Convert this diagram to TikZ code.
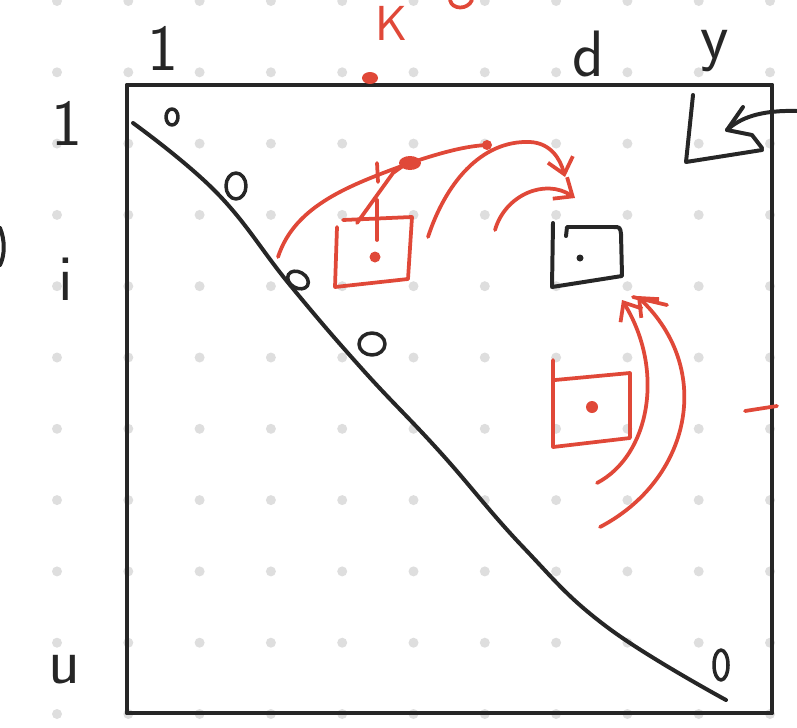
\documentclass[tikz,border=0pt]{standalone}
\usepackage{tikz}
\usetikzlibrary{arrows.meta,calc}
\definecolor{inkblack}{RGB}{38,38,38}
\definecolor{inkred}{RGB}{224,72,56}
\definecolor{dotgray}{RGB}{222,222,222}
\tikzset{
  ink/.style={draw=inkblack, line width=3.4pt, line cap=round, line join=round},
  redink/.style={draw=inkred, line width=3.2pt, line cap=round, line join=round},
  hand/.style={font=\sffamily\fontsize{56}{56}\selectfont, inner sep=0pt, anchor=base},
  barb/.style={-{Straight Barb[length=13pt,width=22pt]}},
}

\begin{document}
\begin{tikzpicture}[x=0.03cm, y=-0.03cm]
  \useasboundingbox (0,0) rectangle (797,727);

  % dotted paper
  \foreach \i in {0,...,10}
    \foreach \j in {0,...,10}
      \fill[dotgray] ({57+71.3*\i},{1+71.3*\j}) circle (5);

  % matrix frame
  \draw[ink, line width=4.2pt] (127,85) rectangle (772,713);

  % row and column labels
  \node[hand, text=inkblack] (colone) at (163,70) {1};
  \node[hand, text=inkblack] (colj) at (588,76) {d};
  \node[hand, text=inkblack] (coln) at (715,58) {y};
  \node[hand, text=inkblack] (rowone) at (67,145) {1};
  \node[hand, text=inkblack] (rowi) at (66,300) {i};
  \node[hand, text=inkblack] (rown) at (64,683) {u};
  \node[hand, text=inkred, font=\sffamily\fontsize{42}{42}\selectfont] (kred) at (392,40) {K};

  % cut-off strokes at the edges
  \draw[ink] (0,228) .. controls (5,240) and (5,255) .. (0,265);
  \draw[redink] (450,0) .. controls (452,10) and (468,10) .. (472,0);
  \fill[inkred] (370,78) ellipse [x radius=8, y radius=6];
  \draw[redink] (745,411) -- (777,406);

  % diagonal
  \draw[ink] plot[smooth, tension=0.7] coordinates {(133,123) (217,193)
    (290,285) (363,370) (440,452) (523,547) (607,627) (726,700)};
  \draw[ink, line width=3pt] (172,117) ellipse [x radius=6, y radius=8];
  \draw[ink, line width=3pt] (236,186) ellipse [x radius=10, y radius=13];
  \draw[ink, line width=3pt] (298,280) ellipse [x radius=11, y radius=8, rotate=-30];
  \draw[ink, line width=3pt] (372,344) ellipse [x radius=13, y radius=11];
  \draw[ink, line width=3pt] (721,665) ellipse [x radius=7, y radius=15];

  % corner mark top right
  \coordinate (cornerin) at (797,111);
  \coordinate (cornertip) at (727,130);
  \draw[ink] (693,95) -- (686,162) -- (762,150);
  \draw[ink] (cornerin) .. controls (760,110) and (740,118) .. (cornertip);
  \draw[ink] (743,107) -- (cornertip) -- (752,135) -- (762,148);

  % target entry
  \draw[ink] (566,236) -- (567,227) -- (613,227)
    .. controls (620,227) .. (621,234) -- (622,276) -- (552,287) -- (553,223);
  \fill[inkblack] (580,258) circle (3.5);

  % first red entry
  \draw[redink] (337,227) -- (335,287) -- (408,279) -- (412,217) -- (343,220);
  \draw[redink] (377,200) -- (377,240);
  \draw[redink] (377,163) -- (378,182);
  \fill[inkred] (375,257) circle (5.5);
  \draw[redink] (357,223) -- (393,173) -- (407,163);
  \fill[inkred] (410,163) ellipse [x radius=11, y radius=7];
  \fill[inkred] (487,145) circle (5);

  % arcs over the top
  \draw[redink] (278,257) .. controls (295,205) and (350,185) .. (410,163)
    .. controls (440,153) and (465,146) .. (487,145);
  \draw[redink, barb] (428,237) .. controls (445,185) and (480,140) .. (530,142)
    .. controls (550,143) and (560,158) .. (565,177);
  \draw[redink, barb] (495,230) .. controls (505,195) and (545,178) .. (575,198);

  % second red entry
  \draw[redink] (553,360) -- (553,447) -- (630,438) -- (630,373) -- (555,380);
  \fill[inkred] (592,407) circle (6);

  % arcs from below
  \draw[redink, barb] (597,483) .. controls (650,455) and (665,370) .. (622,300);
  \draw[redink, barb] (600,527) .. controls (690,480) and (715,370) .. (637,296);
  \draw[redink] (633,297) -- (667,305);
\end{tikzpicture}
\end{document}
